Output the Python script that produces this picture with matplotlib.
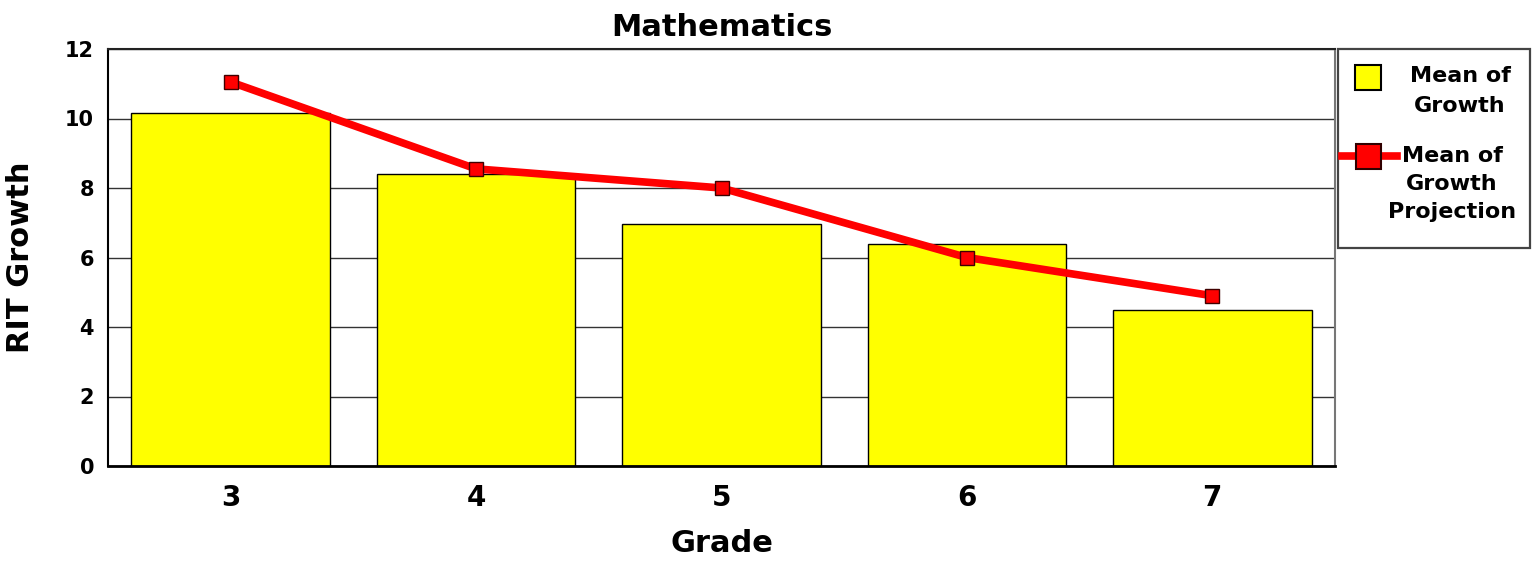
import numpy as np
import matplotlib.pyplot as plt
from matplotlib.lines import Line2D
from matplotlib.patches import Rectangle

plt.rcParams['font.family'] = ['DejaVu Sans']
plt.rcParams['font.weight'] = 'bold'

#### ========== Data ==========

grades     = ['3', '4', '5', '6', '7']
growth     = [10.15, 8.4, 6.95, 6.4, 4.5]
projection = [11.05, 8.55, 8.0, 6.0, 4.9]

yticks = [0, 2, 4, 6, 8, 10, 12]

series_names = [ 'Mean of\nGrowth', 'Mean of\nGrowth\nProjection' ]

#### ==========================

W, H = 1533, 567
def px( x ): return x / W
def py( y ): return 1 - y / H

barColor  = '#ffff00'
lineColor = '#ff0000'

fig = plt.figure( figsize = ( W/100, H/100 ), dpi = 100 )
ax  = fig.add_axes( [ px(108), py(466), (1335-108)/W, (466-49)/H ] )

x = np.arange( len( grades ) )

ax.bar( x, growth, width = 0.81, color = barColor, edgecolor = 'black',
        linewidth = 1.0, zorder = 2 )
ax.plot( x, projection, color = lineColor, linewidth = 5.5, marker = 's',
         markersize = 9.5, markerfacecolor = lineColor,
         markeredgecolor = '#400000', markeredgewidth = 1.0, zorder = 3 )

ax.set_xlim( -0.5, 4.5 )
ax.set_ylim( 0, 12 )
ax.set_xticks( x )
ax.set_xticklabels( grades )
ax.set_yticks( yticks )
ax.tick_params( axis = 'both', length = 0 )
ax.tick_params( axis = 'x', pad = 13, labelsize = 20 )
ax.tick_params( axis = 'y', pad = 10, labelsize = 15 )
for lab in ax.get_xticklabels() + ax.get_yticklabels():
    lab.set_fontweight( 'bold' )

ax.yaxis.grid( True, color = '#333333', linewidth = 1.0, zorder = 0 )
ax.set_axisbelow( True )

ax.spines['top'].set_color( '#222222' )
ax.spines['top'].set_linewidth( 1.5 )
ax.spines['right'].set_color( '#777777' )
ax.spines['right'].set_linewidth( 1.5 )
ax.spines['left'].set_color( 'black' )
ax.spines['left'].set_linewidth( 1.5 )
ax.spines['bottom'].set_color( 'black' )
ax.spines['bottom'].set_linewidth( 2.0 )

ax.set_title( 'Mathematics', fontsize = 22, fontweight = 'bold', pad = 9 )
ax.set_xlabel( 'Grade', fontsize = 22, fontweight = 'bold', labelpad = 12 )
ax.set_ylabel( 'RIT Growth', fontsize = 22, fontweight = 'bold', labelpad = 22 )

#### Legend box (drawn by hand, beside the axes)

fig.patches.append( Rectangle( ( px(1338), py(248) ), (1530-1338)/W,
                               (248-49)/H, transform = fig.transFigure,
                               facecolor = 'white', edgecolor = '#444444',
                               linewidth = 1.6 ) )

fig.patches.append( Rectangle( ( px(1355), py(90) ), 26/W, 25/H,
                               transform = fig.transFigure,
                               facecolor = barColor, edgecolor = 'black',
                               linewidth = 1.5 ) )
fig.lines.append( Line2D( [ px(1342), px(1397) ], [ py(156), py(156) ],
                          transform = fig.transFigure, color = lineColor,
                          linewidth = 5.5 ) )
fig.lines.append( Line2D( [ px(1368) ], [ py(156) ],
                          transform = fig.transFigure, marker = 's',
                          markersize = 18, markerfacecolor = lineColor,
                          markeredgecolor = '#300000',
                          markeredgewidth = 1.5 ) )

fig.text( px(1460), py(66), series_names[0], ha = 'center', va = 'top',
          multialignment = 'center', fontsize = 16, fontweight = 'bold',
          linespacing = 1.6 )
fig.text( px(1452), py(146), series_names[1], ha = 'center', va = 'top',
          multialignment = 'center', fontsize = 16, fontweight = 'bold',
          linespacing = 1.5 )

plt.savefig( 'out.png', dpi = 100 )
plt.close()
